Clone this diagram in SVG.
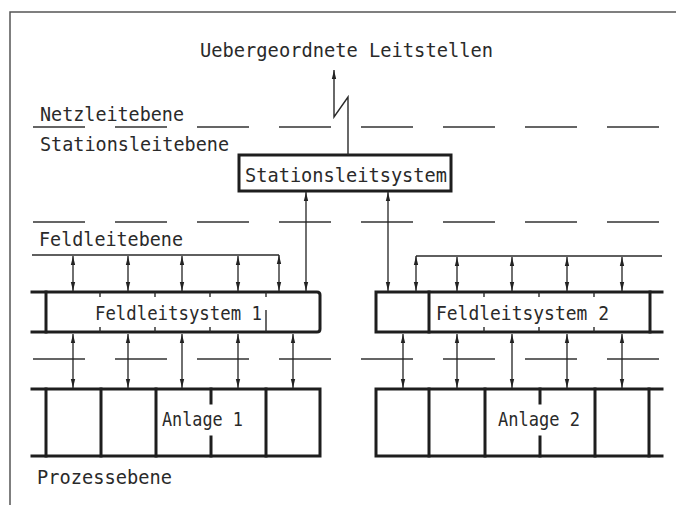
<svg xmlns="http://www.w3.org/2000/svg" width="676" height="513" viewBox="0 0 676 513">
<style>
  text { font-family: "DejaVu Sans Mono", "Liberation Mono", monospace; font-size: 19px; fill: #2a2a2a; }
  .frame { stroke: #555; stroke-width: 1.5; fill: none; }
  .thick { stroke: #1e1e1e; stroke-width: 3; fill: none; stroke-linecap: square; }
  .thin { stroke: #2a2a2a; stroke-width: 1.4; fill: none; }
  .dash { stroke: #333; stroke-width: 1.3; fill: none; stroke-dasharray: 52 30; }
  .arr { stroke: #222; stroke-width: 1.3; fill: none; marker-start: url(#ah); marker-end: url(#ah); }
</style>
<defs>
  <marker id="ah" viewBox="0 0 10 6" refX="10" refY="3" markerWidth="9" markerHeight="5.4" markerUnits="userSpaceOnUse" orient="auto-start-reverse">
    <path d="M0,0.6 L10,3 L0,5.4 Z" fill="#222"/>
  </marker>
</defs>
<rect width="676" height="513" fill="#fff"/>

<g id="frame">
  <path class="frame" d="M10,505 V12 H676"/>
</g>

<g id="levels">
  <line class="dash" x1="33" y1="127" x2="676" y2="127"/>
  <line class="dash" x1="33" y1="222" x2="676" y2="222"/>
  <line class="dash" x1="33" y1="359" x2="676" y2="359"/>
  <text x="200" y="57" textLength="293" lengthAdjust="spacingAndGlyphs">Uebergeordnete Leitstellen</text>
  <text x="40" y="121" textLength="144" lengthAdjust="spacingAndGlyphs">Netzleitebene</text>
  <text x="40" y="151" textLength="189" lengthAdjust="spacingAndGlyphs">Stationsleitebene</text>
  <text x="39" y="246" textLength="144" lengthAdjust="spacingAndGlyphs">Feldleitebene</text>
  <text x="37" y="484" textLength="135" lengthAdjust="spacingAndGlyphs">Prozessebene</text>
</g>

<g id="stationsleitsystem">
  <rect class="thick" x="239" y="155" width="212" height="36" stroke-width="3.5"/>
  <text x="245" y="182" textLength="202" lengthAdjust="spacingAndGlyphs">Stationsleitsystem</text>
</g>

<g id="feldleitsystem1">
  <path class="thick" d="M32,292 H317 Q320,292 320,295 V329 Q320,332 317,332 H32"/>
  <line class="thick" x1="46" y1="292" x2="46" y2="332"/>
  <path class="thin" stroke-width="2" d="M100,292 V297 M100,327 V332 M155,292 V297 M155,327 V332 M210,292 V297 M210,327 V332 M266,292 V297 M266,310 V332"/>
  <text x="95" y="320" textLength="167" lengthAdjust="spacingAndGlyphs">Feldleitsystem 1</text>
</g>

<g id="feldleitsystem2">
  <path class="thick" d="M662,292 H376 V332 H662"/>
  <line class="thick" x1="429" y1="292" x2="429" y2="332"/>
  <line class="thick" x1="650" y1="292" x2="650" y2="332"/>
  <path class="thin" stroke-width="2" d="M484,292 V297 M484,327 V332 M539,292 V297 M539,327 V332 M594,292 V297 M594,327 V332"/>
  <text x="436" y="320" textLength="173" lengthAdjust="spacingAndGlyphs">Feldleitsystem 2</text>
</g>

<g id="anlage1">
  <path class="thick" d="M32,389 H320 V456 H32"/>
  <path class="thick" d="M46,389 V456 M101,389 V456 M156,389 V456 M266,389 V456 M211,389 V403 M211,437 V456"/>
  <text x="162" y="426" textLength="81" lengthAdjust="spacingAndGlyphs">Anlage 1</text>
</g>

<g id="anlage2">
  <path class="thick" d="M662,389 H376 V456 H662"/>
  <path class="thick" d="M429,389 V456 M485,389 V456 M595,389 V456 M649,389 V456 M540,389 V403 M540,437 V456"/>
  <text x="498" y="426" textLength="82" lengthAdjust="spacingAndGlyphs">Anlage 2</text>
</g>

<g id="connectors">
  <path class="thin" d="M348,155 V97 L334,117 V70" marker-end="url(#ah)"/>
  <path class="thin" d="M32,255 H279"/>
  <path class="thin" d="M416,256 H662"/>
  <line class="arr" x1="306" y1="192" x2="306" y2="291"/>
  <line class="arr" x1="388" y1="192" x2="388" y2="291"/>
  <line class="arr" x1="73" y1="256" x2="73" y2="291"/>
  <line class="arr" x1="128" y1="256" x2="128" y2="291"/>
  <line class="arr" x1="182" y1="256" x2="182" y2="291"/>
  <line class="arr" x1="238" y1="256" x2="238" y2="291"/>
  <line class="arr" x1="279" y1="255" x2="279" y2="291"/>
  <line class="arr" x1="416" y1="256" x2="416" y2="291"/>
  <line class="arr" x1="457" y1="257" x2="457" y2="291"/>
  <line class="arr" x1="512" y1="257" x2="512" y2="291"/>
  <line class="arr" x1="567" y1="257" x2="567" y2="291"/>
  <line class="arr" x1="622" y1="257" x2="622" y2="291"/>
  <line class="arr" x1="73" y1="334" x2="73" y2="388"/>
  <line class="arr" x1="128" y1="334" x2="128" y2="388"/>
  <line class="arr" x1="182" y1="334" x2="182" y2="388"/>
  <line class="arr" x1="238" y1="334" x2="238" y2="388"/>
  <line class="arr" x1="293" y1="334" x2="293" y2="388"/>
  <line class="arr" x1="403" y1="334" x2="403" y2="388"/>
  <line class="arr" x1="457" y1="334" x2="457" y2="388"/>
  <line class="arr" x1="512" y1="334" x2="512" y2="388"/>
  <line class="arr" x1="567" y1="334" x2="567" y2="388"/>
  <line class="arr" x1="622" y1="334" x2="622" y2="388"/>
</g>
</svg>
